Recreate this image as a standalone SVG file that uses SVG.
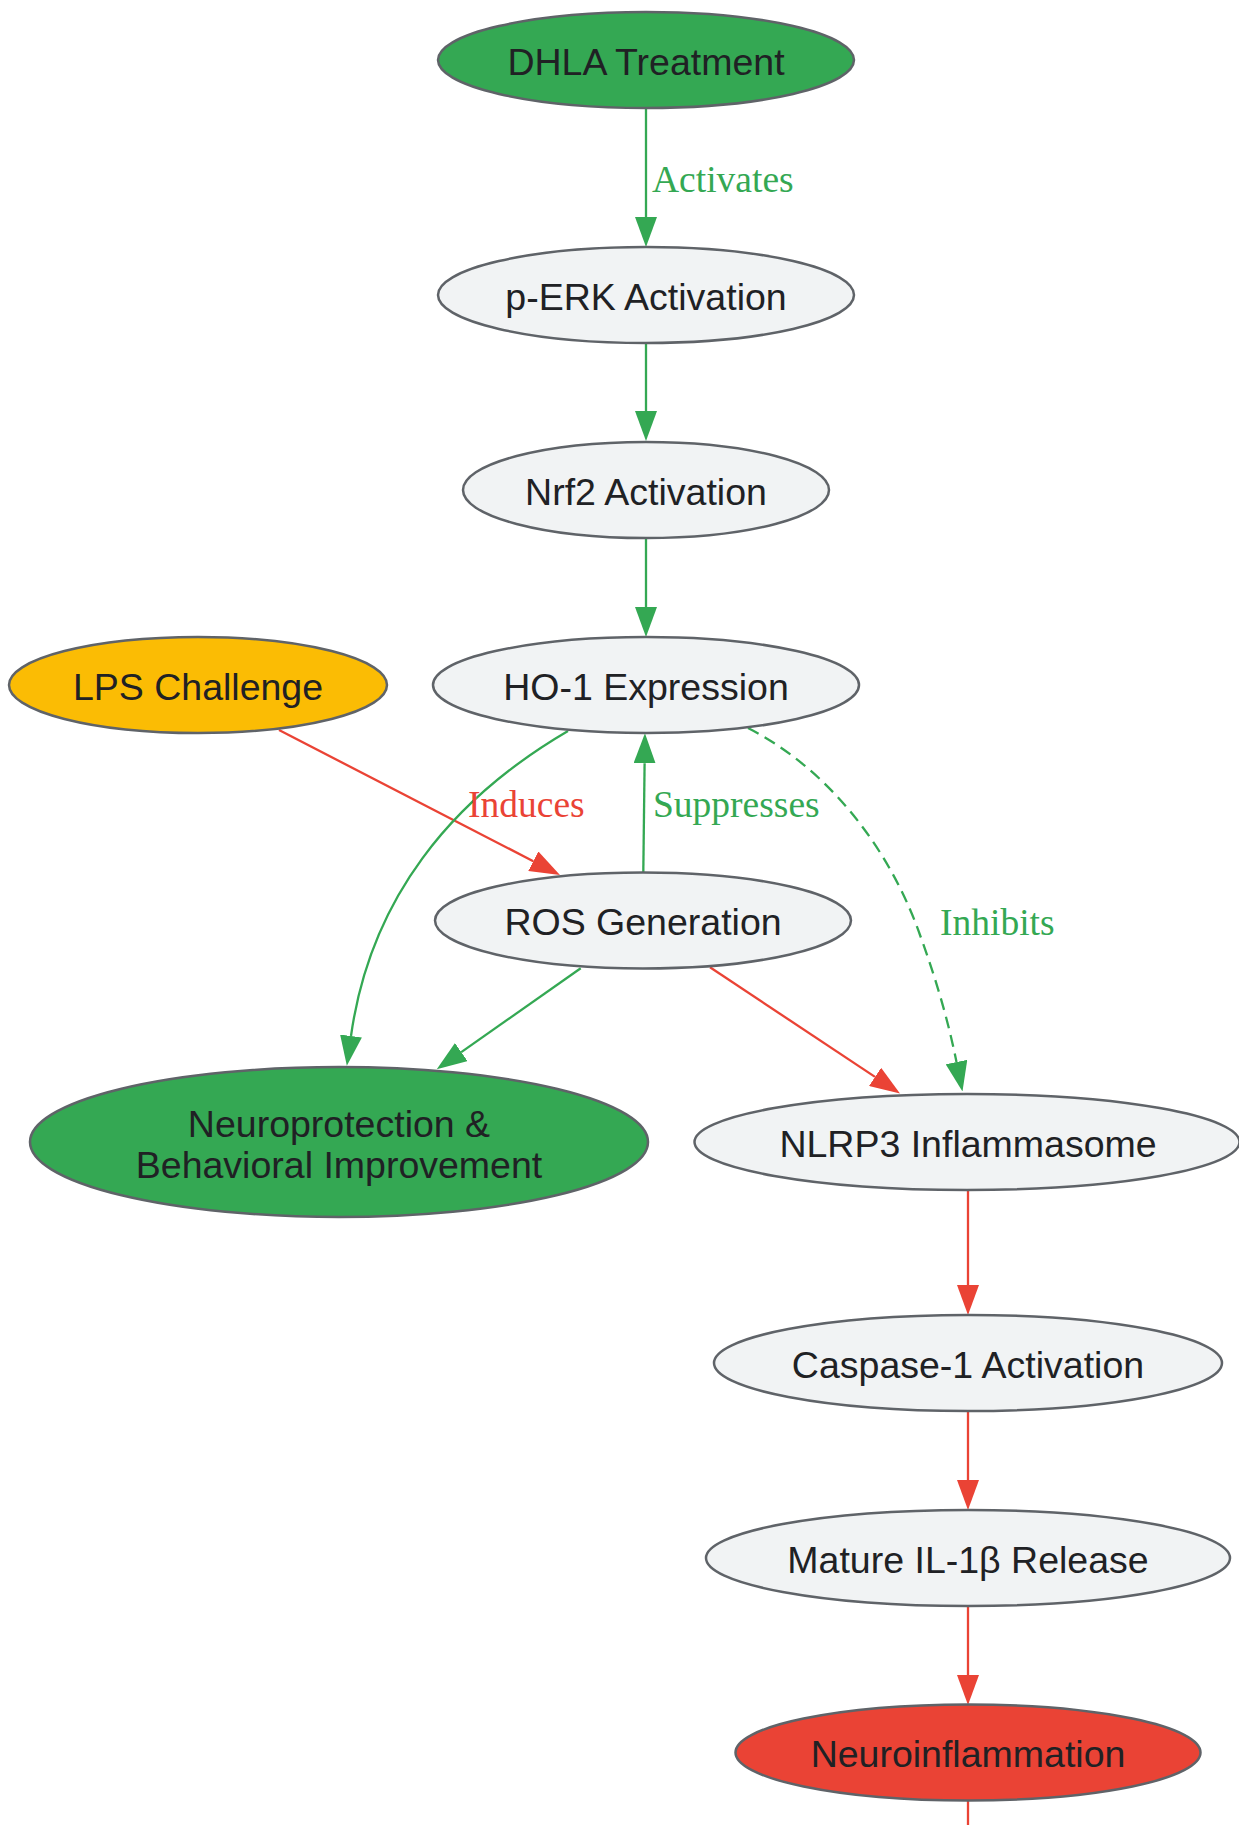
<svg xmlns="http://www.w3.org/2000/svg" width="1239" height="1825" viewBox="0 0 1239 1825">
<defs>
<style>
.node ellipse{stroke:#5f6368;stroke-width:2.5}
.node text{font-family:"Liberation Sans",Arial,sans-serif;font-size:37.5px;fill:#202124;text-anchor:middle}
.gray{fill:#f1f3f4}
.green{fill:#34a853}
.yellow{fill:#fbbc04}
.red{fill:#ea4335}
.e{fill:none;stroke-width:2.3}
.eg{stroke:#34a853}
.er{stroke:#ea4335}
.dash{stroke-dasharray:12,7}
.lbl{font-family:"Liberation Serif","Times New Roman",serif;font-size:37.5px}
.lg{fill:#34a853}
.lr{fill:#ea4335}
</style>
<marker id="ag" markerUnits="userSpaceOnUse" markerWidth="30" markerHeight="22" refX="0" refY="11" orient="auto" viewBox="0 0 30 22">
<path d="M0,0 L30,11 L0,22 z" fill="#34a853"/>
</marker>
<marker id="ar" markerUnits="userSpaceOnUse" markerWidth="30" markerHeight="22" refX="0" refY="11" orient="auto" viewBox="0 0 30 22">
<path d="M0,0 L30,11 L0,22 z" fill="#ea4335"/>
</marker>
</defs>
<rect width="1239" height="1825" fill="#ffffff"/>
<g id="edges">
<path class="e eg" d="M646,108 L646,217" marker-end="url(#ag)"/>
<path class="e eg" d="M646,344 L646,411" marker-end="url(#ag)"/>
<path class="e eg" d="M646,538 L646,607" marker-end="url(#ag)"/>
<path class="e er" d="M279,730 L533.3,861.2" marker-end="url(#ar)"/>
<path class="e eg" d="M643.3,872.7 L644.6,763.3" marker-end="url(#ag)"/>
<path class="e eg" d="M568,731 C450,800 370,900 351,1036" marker-end="url(#ag)"/>
<path class="e eg" d="M580.7,968.3 L461.3,1052.1" marker-end="url(#ag)"/>
<path class="e er" d="M710,967.3 L875,1076.9" marker-end="url(#ar)"/>
<path class="e eg dash" d="M748,728 C830,770 890,850 920,935 C940,990 950,1030 956.5,1062" marker-end="url(#ag)"/>
<path class="e er" d="M968,1190 L968,1285" marker-end="url(#ar)"/>
<path class="e er" d="M968,1411 L968,1480" marker-end="url(#ar)"/>
<path class="e er" d="M968,1606 L968,1675" marker-end="url(#ar)"/>
<path class="e er" d="M968,1800 L968,1830"/>
<text class="lbl lg" x="652" y="192">Activates</text>
<text class="lbl lr" x="468" y="817">Induces</text>
<text class="lbl lg" x="653" y="817">Suppresses</text>
<text class="lbl lg" x="940" y="935">Inhibits</text>
</g>
<g id="dhla" class="node"><ellipse class="green" cx="646" cy="60" rx="208" ry="48"/><text x="646" y="74.5">DHLA Treatment</text></g>
<g id="perk" class="node"><ellipse class="gray" cx="646" cy="295" rx="208" ry="48"/><text x="646" y="309.5">p-ERK Activation</text></g>
<g id="nrf2" class="node"><ellipse class="gray" cx="646" cy="490" rx="183" ry="48"/><text x="646" y="504.5">Nrf2 Activation</text></g>
<g id="ho1" class="node"><ellipse class="gray" cx="646" cy="685" rx="213" ry="48"/><text x="646" y="699.5">HO-1 Expression</text></g>
<g id="lps" class="node"><ellipse class="yellow" cx="198" cy="685" rx="189" ry="48"/><text x="198" y="699.5">LPS Challenge</text></g>
<g id="ros" class="node"><ellipse class="gray" cx="643" cy="920.5" rx="208" ry="48"/><text x="643" y="935">ROS Generation</text></g>
<g id="neuroprotection" class="node"><ellipse class="green" cx="339" cy="1142" rx="309" ry="75"/><text x="339" y="1137">Neuroprotection &amp;</text><text x="339" y="1178">Behavioral Improvement</text></g>
<g id="nlrp3" class="node"><ellipse class="gray" cx="967" cy="1142" rx="272.5" ry="48"/><text x="968" y="1156.5">NLRP3 Inflammasome</text></g>
<g id="caspase1" class="node"><ellipse class="gray" cx="968" cy="1363" rx="254" ry="48"/><text x="968" y="1377.5">Caspase-1 Activation</text></g>
<g id="il1b" class="node"><ellipse class="gray" cx="968" cy="1558" rx="262" ry="48"/><text x="968" y="1572.5">Mature IL-1β Release</text></g>
<g id="neuroinflammation" class="node"><ellipse class="red" cx="968" cy="1752.5" rx="232.5" ry="48"/><text x="968" y="1767">Neuroinflammation</text></g>
</svg>
